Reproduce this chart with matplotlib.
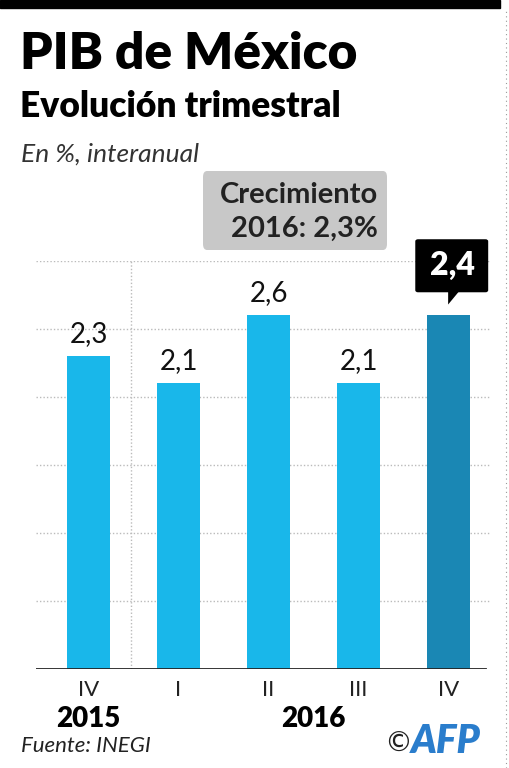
import matplotlib.pyplot as plt
from matplotlib.patches import FancyBboxPatch, Polygon, Rectangle
from matplotlib.lines import Line2D

quarters = ['IV', 'I', 'II', 'III', 'IV']
years = ['2015', '2016']
bar_heights = [2.3, 2.1, 2.6, 2.1, 2.6]   # last bar is drawn as tall as II in the original
labels = ['2,3', '2,1', '2,6', '2,1', '2,4']
grid_levels = [0.5, 1.0, 1.5, 2.0, 2.5, 3.0]

light = '#19b7ea'
dark = '#1a87b4'
FONT = 'Lato'

W, H = 509, 768
fig = plt.figure(figsize=(W/100, H/100), dpi=100)

def fx(px):
    return px / W

def fy(py):
    return 1 - py / H

# top black strip and dotted right border
fig.patches.append(Rectangle((0, fy(8)), fx(500), 8/H, transform=fig.transFigure, color='black'))
fig.lines.append(Line2D([fx(506), fx(506)], [0, fy(10)], transform=fig.transFigure,
                        color='#999999', lw=0.8, ls=(0, (1, 3))))

# titles
fig.text(fx(20), fy(69), 'PIB de México', fontsize=37, fontweight='heavy', family=FONT, va='baseline')
fig.text(fx(20), fy(117), 'Evolución trimestral', fontsize=25.5, fontweight='heavy', family=FONT, va='baseline')
fig.text(fx(21), fy(162), 'En %, interanual', fontsize=19, fontstyle='italic', fontweight='normal',
         family=FONT, color='#333333', va='baseline')

# main axes
ax = fig.add_axes([fx(36), fy(669), fx(490) - fx(36), (669 - 261) / H])
ax.set_xlim(-0.583, 4.46)
ax.set_ylim(0, 3.0)
ax.axis('off')

for g in grid_levels:
    ax.axhline(g, color='#bbbbbb', lw=1, ls=(0, (1, 1.5)), zorder=0)
ax.axvline(0.47, color='#bbbbbb', lw=1, ls=(0, (1, 1.5)), zorder=0)
ax.axhline(0, xmax=0.99, color='#222222', lw=2, zorder=3)

x = list(range(len(bar_heights)))
colors = [light] * 4 + [dark]
ax.bar(x, bar_heights, width=0.48, color=colors, zorder=2)

for i in range(4):
    ax.text(x[i], bar_heights[i] + 0.07, labels[i], ha='center', va='bottom',
            fontsize=20, family=FONT, color='#111111')

# callout for last quarter
xi, top = x[4], bar_heights[4]
box = FancyBboxPatch((xi - 0.37, top + 0.17), 0.81, 0.39,
                     boxstyle='round,pad=0,rounding_size=0.03', fc='black', ec='none',
                     clip_on=False, zorder=4, mutation_aspect=0.5)
ax.add_patch(box)
ax.add_patch(Polygon([(xi - 0.005, top + 0.18), (xi + 0.12, top + 0.18), (xi - 0.005, top + 0.08)],
                     closed=True, fc='black', ec='none', clip_on=False, zorder=4))
ax.text(xi + 0.04, top + 0.365, labels[4], ha='center', va='center', color='white',
        fontsize=23, fontweight='heavy', family=FONT, zorder=5)

# quarter and year labels
for i, q in enumerate(quarters):
    ax.text(x[i], -0.08, q, ha='center', va='top', fontsize=16, family=FONT,
            fontweight='normal', color='#222222')
ax.text(0, -0.27, years[0], ha='center', va='top', fontsize=20, fontweight='heavy', family=FONT)
ax.text(2.5, -0.27, years[1], ha='center', va='top', fontsize=20, fontweight='heavy', family=FONT)

# growth box
fig.patches.append(FancyBboxPatch((fx(203), fy(250)), fx(387) - fx(203), (250 - 171) / H,
                                  boxstyle='round,pad=0,rounding_size=0.008', transform=fig.transFigure,
                                  fc='#c8c8c8', ec='none'))
fig.text(fx(378), fy(203), 'Crecimiento', ha='right', va='baseline', fontsize=21,
         fontweight='bold', family=FONT, color='#222222')
fig.text(fx(378), fy(237), '2016: 2,3%', ha='right', va='baseline', fontsize=21,
         fontweight='bold', family=FONT, color='#222222')

# footer
fig.text(fx(21), fy(752), 'Fuente: INEGI', fontsize=16, fontstyle='italic', family=FONT,
         color='#222222', va='baseline')
fig.text(fx(384), fy(752), '©', fontsize=20, family='DejaVu Sans', color='#222222', va='baseline')
fig.text(fx(411), fy(753), 'AFP', fontsize=28, fontweight='heavy', fontstyle='italic',
         family=FONT, color='#2a7dcc', va='baseline')

fig.savefig('out.png', dpi=100)
